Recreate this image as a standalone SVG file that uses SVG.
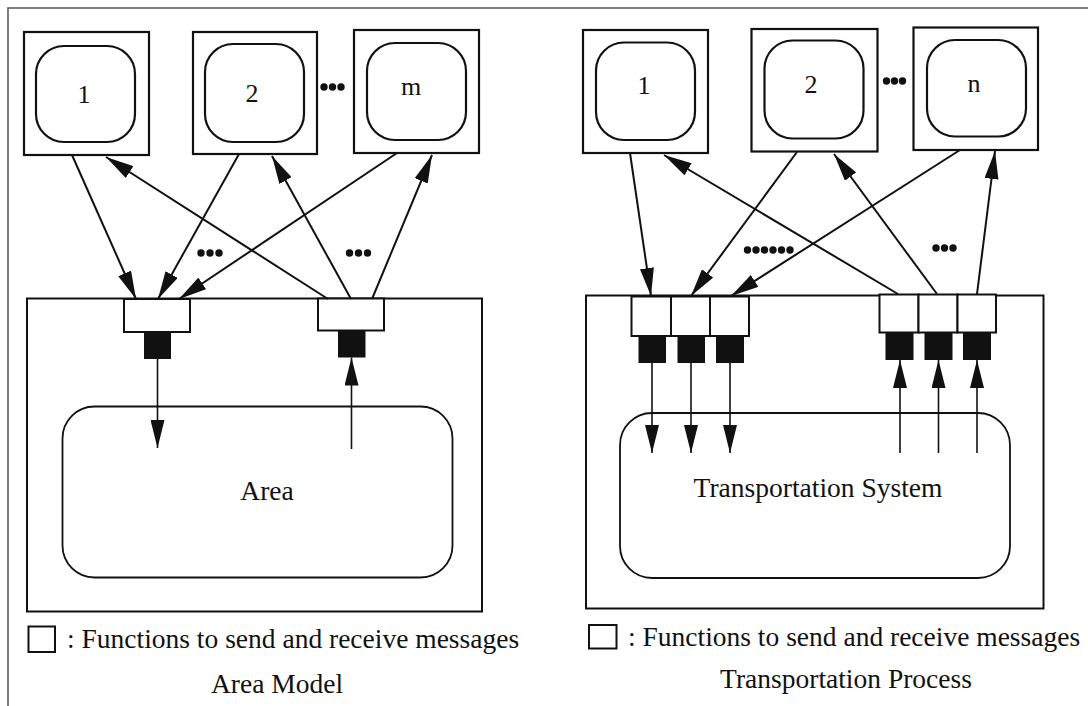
<svg xmlns="http://www.w3.org/2000/svg" width="1088" height="706" viewBox="0 0 1088 706">
  <style>
    .frame { stroke: #555; stroke-width: 1.5; fill: none; }
    .box { fill: #fff; stroke: #111; stroke-width: 2.2; }
    .inner { fill: none; stroke: #111; stroke-width: 2.2; }
    .outer { fill: none; stroke: #111; stroke-width: 2; }
    .core { fill: none; stroke: #111; stroke-width: 1.8; }
    .port { fill: #fff; stroke: #111; stroke-width: 2; }
    .plug { fill: #111; stroke: none; }
    .link { stroke: #111; stroke-width: 2; fill: none; marker-end: url(#head); }
    .flow { stroke: #111; stroke-width: 1.6; fill: none; marker-end: url(#head); }
    .dot { fill: #111; }
    text { font-family: "Liberation Serif", "Times New Roman", serif; fill: #111; }
    .num { font-size: 26px; text-anchor: middle; }
    .lbl { font-size: 27.5px; text-anchor: middle; }
    .note { font-size: 27.5px; }
  </style>
  <defs>
    <marker id="head" markerUnits="userSpaceOnUse" markerWidth="28" markerHeight="14" refX="28" refY="7" orient="auto" viewBox="0 0 28 14">
      <path d="M0,0 L28,7 L0,14 Z" fill="#111"/>
    </marker>
  </defs>

  <rect width="1088" height="706" fill="#fff"/>
  <path class="frame" d="M8,706 V8 H1088"/>

  <!-- ===== Area Model ===== -->
  <g id="area-proc-1">
    <rect class="box" x="24" y="32" width="125" height="123"/>
    <rect class="inner" x="36" y="46" width="99" height="96" rx="28"/>
    <text class="num" x="84" y="103">1</text>
  </g>
  <g id="area-proc-2">
    <rect class="box" x="193" y="32" width="124" height="122"/>
    <rect class="inner" x="205" y="44" width="99" height="98" rx="28"/>
    <text class="num" x="252" y="102">2</text>
  </g>
  <g id="area-proc-m">
    <rect class="box" x="354" y="30" width="125" height="123"/>
    <rect class="inner" x="367" y="43" width="99" height="97" rx="28"/>
    <text class="num" x="411" y="95">m</text>
  </g>
  <g id="area-ellipsis">
    <circle class="dot" cx="324" cy="87" r="3.7"/>
    <circle class="dot" cx="332.5" cy="87" r="3.7"/>
    <circle class="dot" cx="341" cy="87" r="3.7"/>
    <circle class="dot" cx="201" cy="253" r="3.7"/>
    <circle class="dot" cx="210" cy="253" r="3.7"/>
    <circle class="dot" cx="219" cy="253" r="3.7"/>
    <circle class="dot" cx="349.5" cy="253" r="3.7"/>
    <circle class="dot" cx="358.5" cy="253" r="3.7"/>
    <circle class="dot" cx="367.5" cy="253" r="3.7"/>
  </g>
  <g id="area-model">
    <rect class="outer" x="27" y="298.5" width="455" height="313"/>
    <rect class="core" x="62.5" y="406.5" width="390" height="171" rx="32"/>
    <text class="lbl" x="267" y="500">Area</text>
  </g>
  <g id="area-port-in">
    <rect class="port" x="124" y="299" width="66" height="33"/>
    <rect class="plug" x="144" y="332" width="27" height="27"/>
  </g>
  <g id="area-port-out">
    <rect class="port" x="318" y="298.5" width="66" height="32"/>
    <rect class="plug" x="338" y="330.5" width="27.5" height="27"/>
  </g>
  <g id="area-connectors">
    <line class="link" x1="72" y1="155" x2="136" y2="299"/>
    <line class="link" x1="239" y1="154" x2="158" y2="299"/>
    <line class="link" x1="397" y1="153" x2="179" y2="299"/>
    <line class="link" x1="328" y1="299" x2="106" y2="157"/>
    <line class="link" x1="351" y1="299" x2="272" y2="156"/>
    <line class="link" x1="372" y1="299" x2="432" y2="155"/>
    <line class="flow" x1="157.5" y1="359" x2="157.5" y2="448"/>
    <line class="flow" x1="351.5" y1="449" x2="351.5" y2="357.5"/>
  </g>
  <g id="area-legend">
    <rect class="port" x="28.5" y="626.5" width="26.5" height="25.5" stroke-width="1.8"/>
    <text class="note" x="67" y="648">: Functions to send and receive messages</text>
    <text class="lbl" x="277" y="693">Area Model</text>
  </g>

  <!-- ===== Transportation Process ===== -->
  <g id="trans-proc-1">
    <rect class="box" x="583" y="30" width="125" height="123"/>
    <rect class="inner" x="596" y="42.5" width="99" height="97.5" rx="28"/>
    <text class="num" x="644" y="94">1</text>
  </g>
  <g id="trans-proc-2">
    <rect class="box" x="751.5" y="29" width="126" height="122.5"/>
    <rect class="inner" x="764.5" y="40.5" width="99" height="98" rx="28"/>
    <text class="num" x="811" y="92.5">2</text>
  </g>
  <g id="trans-proc-n">
    <rect class="box" x="913.5" y="27.5" width="124.5" height="122.5"/>
    <rect class="inner" x="927" y="40" width="99" height="96.5" rx="28"/>
    <text class="num" x="974" y="91.5">n</text>
  </g>
  <g id="trans-ellipsis">
    <circle class="dot" cx="886.5" cy="81" r="3.7"/>
    <circle class="dot" cx="894.5" cy="81" r="3.7"/>
    <circle class="dot" cx="902.5" cy="81" r="3.7"/>
    <circle class="dot" cx="747.5" cy="250" r="3.7"/>
    <circle class="dot" cx="756" cy="250" r="3.7"/>
    <circle class="dot" cx="764.5" cy="250" r="3.7"/>
    <circle class="dot" cx="773" cy="250" r="3.7"/>
    <circle class="dot" cx="781.5" cy="250" r="3.7"/>
    <circle class="dot" cx="790" cy="250" r="3.7"/>
    <circle class="dot" cx="936" cy="248" r="3.7"/>
    <circle class="dot" cx="944.5" cy="248" r="3.7"/>
    <circle class="dot" cx="953" cy="248" r="3.7"/>
  </g>
  <g id="transport-process">
    <rect class="outer" x="586" y="295.5" width="457.5" height="313"/>
    <rect class="core" x="620" y="413" width="390" height="165" rx="32"/>
    <text class="lbl" x="818" y="497">Transportation System</text>
  </g>
  <g id="trans-ports-in">
    <rect class="port" x="631.5" y="296.5" width="39.5" height="39.5"/>
    <rect class="port" x="671" y="296.5" width="39" height="39.5"/>
    <rect class="port" x="710" y="296.5" width="39" height="39.5"/>
    <rect class="plug" x="638.5" y="336" width="27.5" height="27"/>
    <rect class="plug" x="677.5" y="336" width="27.5" height="27"/>
    <rect class="plug" x="716" y="336" width="28" height="27"/>
  </g>
  <g id="trans-ports-out">
    <rect class="port" x="879.5" y="294.5" width="39" height="38"/>
    <rect class="port" x="918.5" y="294.5" width="39" height="38"/>
    <rect class="port" x="957.5" y="294.5" width="38.5" height="38"/>
    <rect class="plug" x="885.5" y="332.5" width="28" height="27.5"/>
    <rect class="plug" x="924.5" y="332.5" width="28" height="27.5"/>
    <rect class="plug" x="963" y="332.5" width="28" height="27.5"/>
  </g>
  <g id="trans-connectors">
    <line class="link" x1="630" y1="153" x2="651" y2="296"/>
    <line class="link" x1="797" y1="152" x2="691" y2="296"/>
    <line class="link" x1="960" y1="150" x2="731" y2="296"/>
    <line class="link" x1="898" y1="294" x2="664" y2="155"/>
    <line class="link" x1="937" y1="294" x2="834" y2="154"/>
    <line class="link" x1="977" y1="294" x2="995" y2="151"/>
    <line class="flow" x1="652" y1="363" x2="652" y2="453"/>
    <line class="flow" x1="691" y1="363" x2="691" y2="453"/>
    <line class="flow" x1="730" y1="363" x2="730" y2="453"/>
    <line class="flow" x1="900" y1="453" x2="900" y2="360"/>
    <line class="flow" x1="938.5" y1="453" x2="938.5" y2="360"/>
    <line class="flow" x1="977" y1="453" x2="977" y2="360"/>
  </g>
  <g id="trans-legend">
    <rect class="port" x="589" y="625" width="27.5" height="23.5" stroke-width="1.8"/>
    <text class="note" x="628" y="646">: Functions to send and receive messages</text>
    <text class="lbl" x="846" y="688">Transportation Process</text>
  </g>
</svg>
